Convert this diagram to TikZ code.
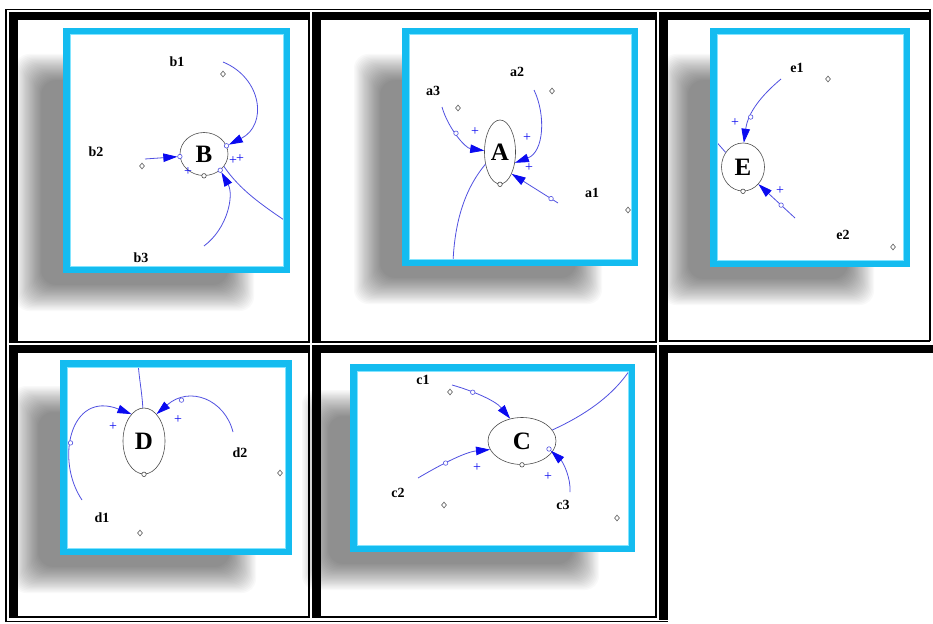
\documentclass[tikz,border=0pt]{standalone}
\usepackage{fontspec}
\setmainfont{Liberation Serif}
\usetikzlibrary{arrows.meta,shapes.geometric}
\definecolor{conn}{RGB}{80,80,225}
\definecolor{ahead}{RGB}{10,10,240}
\definecolor{cyA}{RGB}{20,188,240}
\definecolor{cyB}{RGB}{130,228,255}
\begin{document}
\begin{tikzpicture}[x=1pt,y=-1pt,
  link/.style={draw=conn, line width=0.8pt},
  arr/.style={link, -{Triangle[length=14pt,width=8.5pt,color=ahead]}},
  port/.style={circle, draw=conn, fill=white, inner sep=0pt, minimum size=4.5pt, line width=0.6pt},
  mk/.style={diamond, draw=black!65, fill=white, inner sep=0pt, minimum width=5pt, minimum height=6pt, line width=0.6pt},
  var/.style={ellipse, draw=black!70, line width=0.6pt, inner sep=0pt, font=\bfseries\fontsize{25}{25}\selectfont},
  lbl/.style={font=\bfseries\fontsize{14}{14}\selectfont, inner sep=0pt},
  pls/.style={text=ahead, font=\fontsize{14}{14}\selectfont, inner sep=0pt},
  frame/.style={draw=cyA, line width=7pt},
  frameinner/.style={draw=cyB, line width=1pt},
  band/.style={fill=black},
  thinline/.style={draw=black, line width=1.2pt}
]
\useasboundingbox (0,0) rectangle (933,623);
\fill[white] (0,0) rectangle (933,623);

% ---------- soft shadows (offset down-left) ----------
\foreach \xa/\ya/\xb/\yb in {63/28/290/273, 402/28/638/266, 710/28/910/267, 60/360/292/555, 350/364/635/552}{
  \foreach \k in {0,...,21}{
    \fill[black, opacity=0.022, rounded corners=14pt]
      ({\xa-42-6+\k*1.25},{\ya+32-6+\k*1.25}) rectangle ({\xb-42+6-\k*1.25},{\yb+32+6-\k*1.25});
  }
  \fill[white] (\xa,\ya) rectangle (\xb,\yb);
}

% ---------- table borders ----------
\draw[thinline] (6,622) -- (6,9.5) -- (930,9.5) -- (930,341);
\draw[thinline] (6,621.5) -- (668,621.5);
% cell 1
\fill[band] (9,12) rectangle (309,20); \fill[band] (9,12) rectangle (18,342);
\draw[thinline] (309,12) -- (309,342) -- (9,342);
% cell 2
\fill[band] (312,12) rectangle (656,20); \fill[band] (312,12) rectangle (321,342);
\draw[thinline] (656,12) -- (656,342) -- (312,342);
% cell 3
\fill[band] (659,12) rectangle (930,20); \fill[band] (659,12) rectangle (668,341);
\draw[thinline] (659,341) -- (930,341);
% cell 4
\fill[band] (9,345) rectangle (309,353); \fill[band] (9,345) rectangle (18,617);
\draw[thinline] (309,345) -- (309,617) -- (9,617);
% cell 5
\fill[band] (312,345) rectangle (656,353); \fill[band] (312,345) rectangle (321,617);
\draw[thinline] (656,345) -- (656,617) -- (312,617);
% cell 6
\fill[band] (659,345) rectangle (933,353); \fill[band] (659,345) rectangle (668,620);

% ================= Panel B =================
\node[var, minimum width=48pt, minimum height=43pt] (B) at (204,154) {B};
\node[lbl] (b1) at (177,62) {b1};
\node[lbl] (b2) at (96,152) {b2};
\node[lbl] (b3) at (141,258) {b3};
\node[mk] (Bm1) at (223,74) {};
\node[mk] (Bm2) at (142,166) {};
\coordinate (b1s) at (223,62);
\coordinate (b2s) at (145,159);
\coordinate (b3s) at (204,246);
\coordinate (Bo) at (287,222);
\draw[link] (B.-32) .. controls (240,190) and (262,205) .. (Bo);
\node[port] (Bp1) at (B.20) {};
\node[port] (Bp2) at (B.186) {};
\node[port] (Bp3) at (B.-45) {};
\node[port, draw=black!70] (Bpb) at (B.-90) {};
\draw[arr] (b1s) .. controls (262,78) and (268,125) .. (Bp1);
\draw[arr] (b2s) -- (Bp2);
\draw[arr] (b3s) .. controls (228,228) and (234,195) .. (Bp3);
\node[pls] (Bq1) at (188,172) {+};
\node[pls] (Bq2) at (233,161) {+};
\node[pls] (Bq3) at (240,159) {+};

% ================= Panel A =================
\node[var, minimum width=31pt, minimum height=64pt] (A) at (500,152) {A};
\node[lbl] (a2) at (517,72) {a2};
\node[lbl] (a3) at (433,91) {a3};
\node[lbl] (a1) at (592,193) {a1};
\node[mk] (Am1) at (552,91) {};
\node[mk] (Am2) at (458,108) {};
\node[mk] (Am3) at (628,210) {};
\coordinate (a3s) at (442,107);
\coordinate (a2s) at (534,90);
\coordinate (a1s) at (558,203);
\coordinate (Ao) at (453,262);
\draw[link] (A.-140) .. controls (468,185) and (455,215) .. (Ao);
\node[port, draw=black!70] (Apb) at (A.-90) {};
\draw[arr] (a3s) .. controls (448,128) and (465,148) .. (A.175) node[port, pos=0.45] (Ap3) {};
\draw[arr] (a2s) .. controls (546,115) and (544,152) .. (A.-36);
\draw[arr] (a1s) -- (A.-62) node[port, pos=0.15] (Ap1) {};
\node[pls] (Aq1) at (475,132) {+};
\node[pls] (Aq2) at (527,138) {+};
\node[pls] (Aq3) at (529,168) {+};

% ================= Panel E =================
\node[var, minimum width=43pt, minimum height=48pt] (E) at (743,167) {E};
\node[lbl] (e1) at (797,68) {e1};
\node[lbl] (e2) at (843,235) {e2};
\node[mk] (Em1) at (828,79) {};
\node[mk] (Em2) at (893,247) {};
\coordinate (e1s) at (781,79);
\coordinate (e2s) at (795,218);
\coordinate (Eo) at (713,138);
\draw[link] (E.140) -- (Eo);
\node[port, draw=black!70] (Epb) at (E.-90) {};
\draw[arr] (e1s) .. controls (762,95) and (748,112) .. (E.88) node[port, pos=0.68] (Ep1) {};
\draw[arr] (e2s) -- (E.-48) node[port, pos=0.38] (Ep2) {};
\node[pls] (Eq1) at (735,123) {+};
\node[pls] (Eq2) at (780,191) {+};

% ================= Panel D =================
\node[var, minimum width=42pt, minimum height=66pt] (D) at (144,441) {D};
\node[lbl] (d1) at (102,518) {d1};
\node[lbl] (d2) at (240,453) {d2};
\node[mk] (Dm1) at (140,533) {};
\node[mk] (Dm2) at (280,473) {};
\coordinate (d1s) at (82,500);
\coordinate (d2s) at (233,432);
\coordinate (Do) at (138,362);
\draw[link] (D.92) .. controls (142,392) and (139,378) .. (Do);
\node[port, draw=black!70] (Dpb) at (D.-90) {};
\draw[arr] (d1s) .. controls (55,460) and (70,390) .. (D.115) node[port, pos=0.42] (Dp1) {};
\draw[arr] (d2s) .. controls (225,400) and (190,385) .. (D.65) node[port, pos=0.75] (Dp2) {};
\node[pls] (Dq1) at (113,427) {+};
\node[pls] (Dq2) at (178,420) {+};

% ================= Panel C =================
\node[var, minimum width=68pt, minimum height=47pt] (C) at (522,441) {C};
\node[lbl] (c1) at (423,380) {c1};
\node[lbl] (c2) at (398,493) {c2};
\node[lbl] (c3) at (563,505) {c3};
\node[mk] (Cm1) at (450,392) {};
\node[mk] (Cm2) at (444,505) {};
\node[mk] (Cm3) at (617,518) {};
\coordinate (c1s) at (452,385);
\coordinate (c2s) at (418,478);
\coordinate (c3s) at (570,492);
\coordinate (Co) at (633,365);
\draw[link] (C.20) .. controls (585,415) and (615,395) .. (Co);
\node[port, draw=black!70] (Cpb) at (C.-90) {};
\node[port] (Cp3) at (549,449) {};
\draw[arr] (c1s) .. controls (470,390) and (495,400) .. (C.118) node[port, pos=0.35] (Cp1) {};
\draw[arr] (c2s) .. controls (440,465) and (465,452) .. (C.195) node[port, pos=0.4] (Cp2) {};
\draw[arr] (c3s) .. controls (571,478) and (563,462) .. (Cp3);
\node[pls] (Cq1) at (477,468) {+};
\node[pls] (Cq2) at (548,477) {+};

% ---------- cyan frames ----------
\foreach \xa/\ya/\xb/\yb in {63/28/290/273, 402/28/638/266, 710/28/910/267, 60/360/292/555, 350/364/635/552}{
  \draw[frame] (\xa+3.5,\ya+3.5) rectangle (\xb-3.5,\yb-3.5);
  \draw[frameinner] (\xa+7,\ya+7) rectangle (\xb-7,\yb-7);
}
\end{tikzpicture}
\end{document}
